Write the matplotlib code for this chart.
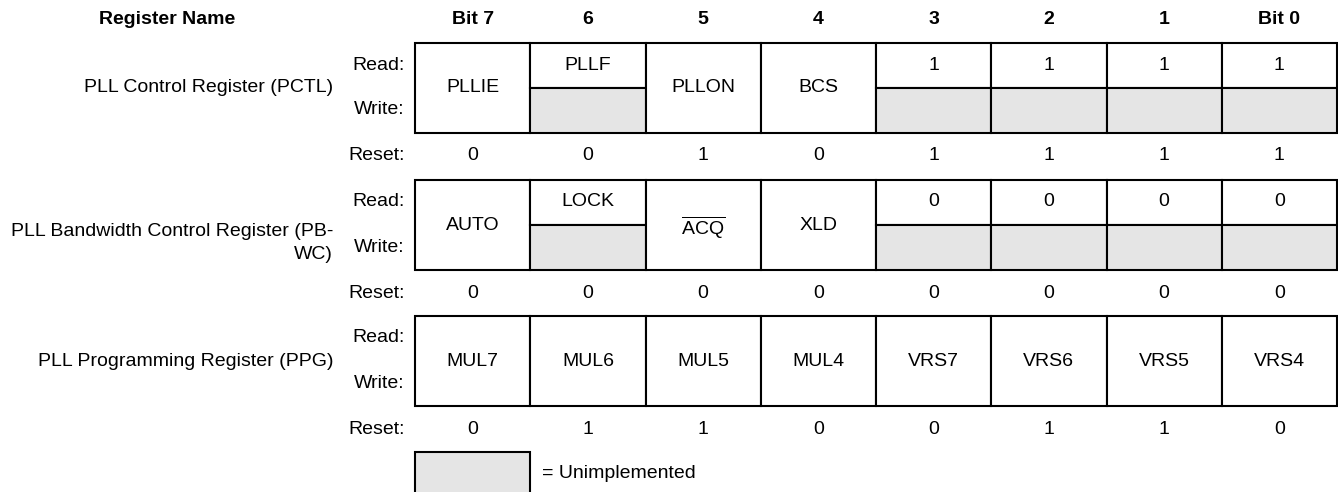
#register diagram
import matplotlib.pyplot as plt
from matplotlib.patches import Rectangle

plt.rcParams['font.family'] = ['Liberation Sans', 'DejaVu Sans']
plt.rcParams['mathtext.fontset'] = 'custom'
plt.rcParams['mathtext.rm'] = 'Liberation Sans'

# data
bit_labels = ["Bit 7", "6", "5", "4", "3", "2", "1", "Bit 0"]
register_names = ["PLL Control Register (PCTL)",
                  "PLL Bandwidth Control Register (PB-\nWC)",
                  "PLL Programming Register (PPG)"]
pctl_fields = ["PLLIE", "PLLF", "PLLON", "BCS", "1", "1", "1", "1"]
pctl_unimpl = [False, True, False, False, True, True, True, True]   # write half unimplemented
pctl_reset = ["0", "0", "1", "0", "1", "1", "1", "1"]
pbwc_fields = ["AUTO", "LOCK", r"$\overline{\mathrm{ACQ}}$", "XLD", "0", "0", "0", "0"]
pbwc_unimpl = [False, True, False, False, True, True, True, True]
pbwc_reset = ["0", "0", "0", "0", "0", "0", "0", "0"]
ppg_fields = ["MUL7", "MUL6", "MUL5", "MUL4", "VRS7", "VRS6", "VRS5", "VRS4"]
ppg_unimpl = [False] * 8
ppg_reset = ["0", "1", "1", "0", "0", "1", "1", "0"]

registers = [(pctl_fields, pctl_unimpl, pctl_reset),
             (pbwc_fields, pbwc_unimpl, pbwc_reset),
             (ppg_fields, ppg_unimpl, ppg_reset)]

# layout (pixels)
W, H = 1338, 492
x0 = 415
cw = 115.25
box_h = 90
tops = [43, 180, 316]
fs = 14
gray = '#e5e5e5'
lw = 1.5

fig = plt.figure(figsize=(W / 100, H / 100), dpi=100)
ax = fig.add_axes([0, 0, 1, 1])
ax.set_xlim(0, W)
ax.set_ylim(H, 0)
ax.axis('off')

# header
ax.text(167, 20, "Register Name", ha='center', va='center', fontsize=fs, fontweight='bold')
for i, b in enumerate(bit_labels):
    ax.text(x0 + (i + 0.5) * cw, 20, b, ha='center', va='center', fontsize=fs, fontweight='bold')

for r, (fields, unimpl, reset) in enumerate(registers):
    top = tops[r]
    mid = top + box_h / 2
    # row labels
    ax.text(405, top + 22, "Read:", ha='right', va='center', fontsize=fs)
    ax.text(405, top + 67, "Write:", ha='right', va='center', fontsize=fs)
    ax.text(405, top + box_h + 23, "Reset:", ha='right', va='center', fontsize=fs)
    if "\n" in register_names[r]:
        ax.text(333, mid + 18, register_names[r], ha='right', va='center',
                multialignment='right', fontsize=fs, linespacing=1.5)
    else:
        ax.text(333, mid, register_names[r], ha='right', va='center', fontsize=fs)

    for i in range(8):
        xl = x0 + i * cw
        xc = xl + cw / 2
        if unimpl[i]:
            ax.add_patch(Rectangle((xl, top), cw, box_h / 2, facecolor='white',
                                   edgecolor='black', lw=lw))
            ax.add_patch(Rectangle((xl, mid), cw, box_h / 2, facecolor=gray,
                                   edgecolor='black', lw=lw))
            ax.text(xc, top + 22, fields[i], ha='center', va='center', fontsize=fs)
        else:
            ax.add_patch(Rectangle((xl, top), cw, box_h, facecolor='white',
                                   edgecolor='black', lw=lw))
            dy = 3 if fields[i].startswith("$") else 0
            ax.text(xc, mid + dy, fields[i], ha='center', va='center', fontsize=fs)
        ax.text(xc, top + box_h + 23, reset[i], ha='center', va='center', fontsize=fs)

# legend
ax.add_patch(Rectangle((x0, 452), cw, 50, facecolor=gray, edgecolor='black', lw=lw))
ax.text(x0 + cw + 12, 473, "= Unimplemented", ha='left', va='center', fontsize=fs)

fig.savefig("out.png", dpi=100, facecolor='white')
